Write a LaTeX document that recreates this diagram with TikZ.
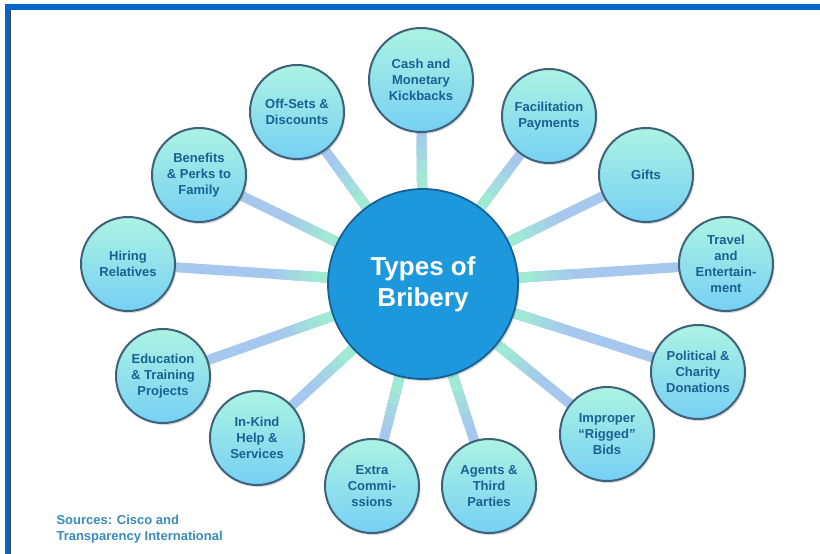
\documentclass[tikz,border=0pt]{standalone}
\usepackage{fontspec}
\setmainfont{Liberation Sans}
\usetikzlibrary{calc,shadows,backgrounds}
\definecolor{frameblue}{RGB}{0,102,204}
\definecolor{hubblue}{RGB}{30,152,220}
\definecolor{hubrim}{RGB}{22,96,150}
\definecolor{leaftop}{RGB}{172,243,226}
\definecolor{leafbot}{RGB}{118,208,244}
\definecolor{leafrim}{RGB}{62,98,122}
\definecolor{labelblue}{RGB}{26,96,146}
\definecolor{spokeblue}{RGB}{166,200,238}
\definecolor{spokemint}{RGB}{160,234,212}
\definecolor{srcblue}{RGB}{58,140,188}
\tikzset{
  hub/.style={circle, minimum size=190pt, inner sep=0pt, fill=hubblue, draw=hubrim,
    line width=1.8pt, text=white, align=center,
    font=\bfseries\fontsize{26}{31}\selectfont,
    drop shadow={opacity=0.35, shadow xshift=1.5pt, shadow yshift=-2pt}},
  leaf/.style={circle, minimum size=94pt, inner sep=0pt, top color=leaftop,
    bottom color=leafbot, draw=leafrim, line width=2pt, text=labelblue,
    align=center, font=\bfseries\fontsize{13}{16}\selectfont,
    drop shadow={opacity=0.3, shadow xshift=1.5pt, shadow yshift=-2pt}},
  spoke/.style={line width=10pt, spokeblue},
}

\begin{document}
\begin{tikzpicture}[x=1pt,y=-1pt]
  \useasboundingbox (0,0) rectangle (820,554);

  \node[hub] (hub) at (423,284) {Types of\\Bribery};

  \node[leaf, minimum size=104pt] (cash) at (421,80) {Cash and\\Monetary\\Kickbacks};
  \node[leaf] (facil)   at (549,116) {Facilitation\\Payments};
  \node[leaf] (gifts)   at (646,175) {Gifts};
  \node[leaf] (travel)  at (726,264) {Travel\\and\\Entertain-\\ment};
  \node[leaf] (polit)   at (698,372) {Political \&\\Charity\\Donations};
  \node[leaf] (rigged)  at (607,434) {Improper\\``Rigged''\\Bids};
  \node[leaf] (agents)  at (489,486) {Agents \&\\Third\\Parties};
  \node[leaf] (extra)   at (372,486) {Extra\\Commi-\\ssions};
  \node[leaf] (inkind)  at (257,438) {In-Kind\\Help \&\\Services};
  \node[leaf] (educ)    at (163,376) {Education\\\& Training\\Projects};
  \node[leaf] (hiring)  at (128,264) {Hiring\\Relatives};
  \node[leaf] (perks)   at (199,175) {Benefits\\\& Perks to\\Family};
  \node[leaf] (offsets) at (297,112) {Off-Sets \&\\Discounts};

  \node[anchor=north west, align=left, text=srcblue,
    font=\bfseries\fontsize{13}{15.5}\selectfont] (src) at (53,512)
    {Sources: Cisco and\\Transparency International};

  \begin{scope}[on background layer]
    \fill[white] (0,0) rectangle (820,554);
    \fill[frameblue] (5,4) rectangle (820,9.5);
    \fill[frameblue] (5,4) rectangle (10,554);
    \draw[black!75, line width=0.8pt] (10.6,10) -- (10.6,554);
    % spokes fade from blue to mint towards the hub
    \foreach \n in {cash,facil,gifts,travel,polit,rigged,agents,extra,inkind,educ,hiring,perks,offsets} {
      \draw[spoke] (hub.center) -- (\n.center);
      \foreach \d/\m in {148/20,136/45,124/70,112/100}
        \draw[spoke, spokemint!\m!spokeblue] (hub.center) -- ($(hub.center)!\d pt!(\n.center)$);
    }
  \end{scope}
\end{tikzpicture}
\end{document}
